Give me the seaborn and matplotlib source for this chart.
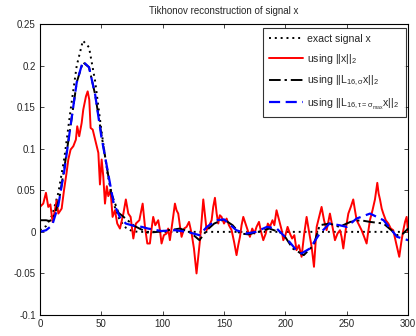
import numpy as np
import pandas as pd
import matplotlib
matplotlib.use("Agg")
import matplotlib.pyplot as plt
import seaborn as sns

# ---- data ----
smooth_x = [0, 5, 10, 15, 20, 25, 30, 35, 40, 45, 50, 55, 60, 65, 70, 75, 80, 300]
exact_y = [0.002, 0.007, 0.020, 0.047, 0.090, 0.147, 0.200, 0.230, 0.222, 0.181,
           0.123, 0.071, 0.034, 0.014, 0.005, 0.001, 0.0, 0.0]

blue_x = [0, 5, 10, 15, 20, 25, 30, 35, 40, 45, 50, 55, 60, 65, 70, 77, 83, 88,
          99, 110, 120, 130, 136, 144, 150, 160, 168, 176, 185, 193, 201, 209,
          213, 220, 228, 236, 244, 250, 258, 269, 280, 291, 300]
blue_y = [0.000, 0.002, 0.008, 0.032, 0.075, 0.128, 0.180, 0.205, 0.198, 0.165,
          0.115, 0.075, 0.035, 0.018, 0.010, 0.007, 0.006, 0.004,
          0.001, 0.002, 0.000, -0.004, 0.006, 0.014, 0.015, 0.002, -0.002, 0.000,
          0.006, 0.004, -0.008, -0.022, -0.026, -0.020, -0.002, 0.010, 0.008,
          0.006, 0.016, 0.022, 0.014, -0.006, -0.010]

black_x = [0, 5, 8, 12, 16, 20, 25, 30, 35, 40, 45, 50, 58, 64, 69, 77, 88, 96,
           104, 110, 114, 122, 130, 136, 142, 150, 157, 163, 170, 178, 187, 198,
           206, 215, 223, 228, 236, 244, 253, 261, 269, 280, 291, 296, 300]
black_y = [0.014, 0.014, 0.013, 0.020, 0.042, 0.078, 0.128, 0.180, 0.204, 0.198,
           0.165, 0.118, 0.047, 0.023, 0.017, 0.007, -0.001, 0.000,
           0.002, 0.003, 0.004, 0.000, -0.010, 0.002, 0.010, 0.015, 0.008, -0.002,
           -0.003, 0.000, 0.004, -0.002, -0.020, -0.028, -0.016, 0.008, 0.010,
           0.006, 0.012, 0.014, 0.012, 0.010, -0.004, -0.002, 0.004]

red_x = [0, 2.7, 4.9, 6.8, 8.5, 10.3, 12.2, 13.6, 15.0, 17.7, 19.6, 21.7, 23.1,
         25.0, 27.2, 29.3, 30.4, 32.0, 34.0, 35.3, 37.5, 38.9, 40.2, 41.3, 43.0,
         44.3, 46.2, 47.6, 48.9, 50.3, 51.6, 53.0, 54.5, 55.7, 57.5, 59.2, 61.1,
         63.0, 65.2, 68.0, 70.0, 72.0, 73.9, 76.1, 78.2, 81.0, 83.7, 85.6, 87.5,
         89.6, 91.0, 92.3, 94.0, 96.4, 97.8, 99.1, 101.0, 103.2, 104.5, 105.9,
         108.0, 110.0, 111.3, 112.7, 114.0, 115.4, 117.5, 119.5, 121.5, 123.6,
         125.5, 127.6, 129.0, 130.4, 131.8, 133.1, 134.5, 135.8, 138.0, 139.9,
         141.2, 142.6, 144.0, 145.3, 146.6, 148.0, 150.0, 152.1, 154.0, 156.2,
         158.2, 160.2, 161.6, 163.0, 164.3, 165.7, 167.5, 169.3, 171.1, 173.0,
         174.8, 176.5, 178.5, 180.2, 182.0, 184.0, 185.7, 187.4, 189.5, 191.0,
         192.8, 194.2, 195.6, 197.0, 198.3, 200.0, 201.8, 203.7, 205.5, 207.3,
         209.1, 211.0, 213.2, 215.2, 217.3, 219.3, 221.4, 223.3, 225.5, 227.5,
         229.5, 231.5, 233.6, 235.0, 236.3, 238.4, 240.4, 242.5, 244.5, 245.8,
         247.2, 249.3, 251.3, 253.3, 255.3, 256.7, 258.1, 260.1, 262.1, 264.2,
         266.2, 267.5, 268.9, 271.0, 273.0, 274.9, 276.0, 277.1, 278.5, 279.8,
         281.8, 283.9, 285.9, 287.9, 290.3, 292.8, 294.5, 296.1, 297.5, 298.8, 300]
red_y = [0.030, 0.034, 0.047, 0.030, 0.033, 0.012, 0.026, 0.038, 0.022, 0.028,
         0.050, 0.071, 0.087, 0.099, 0.103, 0.111, 0.127, 0.115, 0.131, 0.147,
         0.163, 0.169, 0.159, 0.125, 0.123, 0.115, 0.103, 0.095, 0.057, 0.087,
         0.067, 0.034, 0.055, 0.043, 0.050, 0.018, 0.026, 0.010, 0.004, 0.022,
         0.039, 0.022, 0.018, -0.008, 0.010, 0.014, 0.034, 0.006, -0.014,
         -0.014, 0.004, 0.018, 0.008, 0.014, 0.002, -0.014, -0.004, -0.002, 0.004,
         -0.010, 0.012, 0.034, 0.026, 0.022, 0.008, -0.006, 0.004, 0.006, 0.012,
         -0.002, -0.020, -0.050, -0.030, -0.010, 0.014, 0.039, 0.020, 0.002,
         0.008, 0.014, 0.030, 0.041, 0.022, 0.010, 0.020, 0.018, 0.010, 0.016,
         0.008, 0.002, -0.012, -0.028, -0.016, -0.006, 0.008, 0.018, 0.010,
         0.002, -0.006, 0.004, -0.002, 0.006, 0.012, 0.000, -0.010, -0.002,
         0.010, 0.006, 0.014, 0.008, 0.026, 0.018, 0.010, 0.002, -0.010, -0.004,
         0.006, -0.002, -0.008, -0.004, -0.022, -0.016, -0.030, -0.004, 0.018,
         0.000, -0.018, -0.042, 0.006, 0.018, 0.030, 0.014, 0.002, 0.012, 0.022,
         0.006, -0.010, -0.002, 0.002, -0.006, -0.020, 0.004, 0.022, 0.030,
         0.039, 0.026, 0.014, 0.008, 0.002, -0.006, -0.014, 0.000, 0.014, 0.026,
         0.039, 0.059, 0.046, 0.039, 0.028, 0.022, 0.014, 0.010, 0.004, 0.002,
         -0.014, -0.030, -0.012, 0.002, 0.012, 0.018, 0.000]

x_ticks = [0, 50, 100, 150, 200, 250, 300]
y_ticks = [-0.1, -0.05, 0, 0.05, 0.1, 0.15, 0.2, 0.25]
y_ticklabels = ["-0.1", "-0.05", "0", "0.05", "0.1", "0.15", "0.2", "0.25"]

labels = ["exact signal x", r"using $||x||_2$", r"using $||L_{16,\sigma}x||_2$",
          r"using $||L_{16,\tau=\sigma_{max}}x||_2$"]

sns.set_style("ticks")
plt.rcParams["font.family"] = ["Liberation Sans", "DejaVu Sans"]
plt.rcParams["mathtext.default"] = "regular"
plt.rcParams["mathtext.fontset"] = "custom"
plt.rcParams["mathtext.rm"] = "Liberation Sans"
plt.rcParams["mathtext.it"] = "Liberation Sans"

fig = plt.figure(figsize=(4.16, 3.36), dpi=100)
ax = fig.add_axes([0.096, 0.0625, 0.885, 0.866])

df_exact = pd.DataFrame({"x": smooth_x, "y": exact_y})
df_red = pd.DataFrame({"x": red_x, "y": red_y})
df_black = pd.DataFrame({"x": black_x, "y": black_y})
df_blue = pd.DataFrame({"x": blue_x, "y": blue_y})

sns.lineplot(data=df_exact, x="x", y="y", ax=ax, color="black", lw=1.4,
             linestyle=(0, (1, 2)), label=labels[0], sort=False)
sns.lineplot(data=df_red, x="x", y="y", ax=ax, color="#ff0000", lw=1.4,
             label=labels[1], sort=False)
sns.lineplot(data=df_black, x="x", y="y", ax=ax, color="black", lw=1.4,
             linestyle=(0, (6, 2, 1.2, 2)), label=labels[2], sort=False)
sns.lineplot(data=df_blue, x="x", y="y", ax=ax, color="#0000ff", lw=1.6,
             linestyle=(0, (5, 2.5)), label=labels[3], sort=False)

ax.set_xlim(0, 300)
ax.set_ylim(-0.1, 0.25)
ax.set_xticks(x_ticks)
ax.set_yticks(y_ticks)
ax.set_yticklabels(y_ticklabels)
ax.set_xlabel("")
ax.set_ylabel("")
ax.tick_params(direction="in", length=3, width=0.6, labelsize=7, top=True,
               right=True, pad=3)
for s in ax.spines.values():
    s.set_linewidth(0.8)
    s.set_color("black")
ax.set_title("Tikhonov reconstruction of signal x", fontsize=7, pad=7)

leg = ax.legend(loc="upper right", bbox_to_anchor=(0.993, 0.988), borderaxespad=0,
                fontsize=7.6, handlelength=3.2, labelspacing=0.75, frameon=True,
                fancybox=False, edgecolor="black", borderpad=0.6, handletextpad=0.4)
leg.get_frame().set_linewidth(0.8)

fig.savefig("out.png", dpi=100)
